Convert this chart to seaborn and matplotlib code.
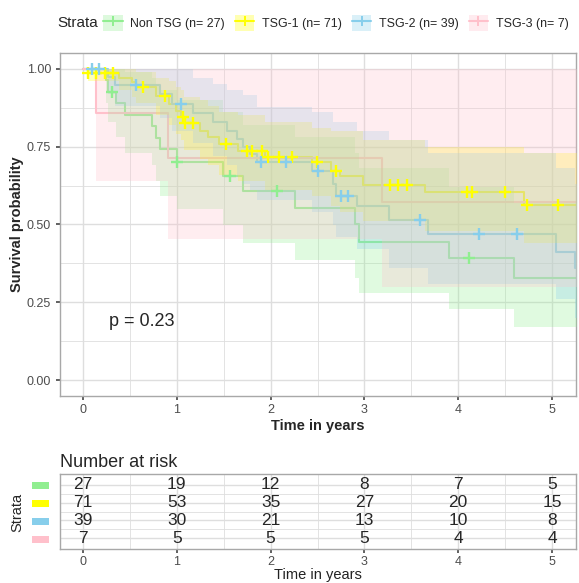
import numpy as np
import matplotlib
matplotlib.use("Agg")
import matplotlib.pyplot as plt
import seaborn as sns
from matplotlib.patches import Patch, Rectangle
from matplotlib.lines import Line2D
from matplotlib.ticker import MultipleLocator

sns.set_theme(style="whitegrid")
plt.rcParams['font.family'] = ['Liberation Sans', 'DejaVu Sans']

# ---- data ----
labels = ["Non TSG (n= 27)", "TSG-1 (n= 71)", "TSG-2 (n= 39)", "TSG-3 (n= 7)"]
colors = ["#90EE90", "#FFFF00", "#87CEEB", "#FFC0CB"]

green_t = [0.25, 0.27, 0.35, 0.45, 0.74, 0.78, 0.82, 1.00, 1.49, 1.71, 2.26, 2.90, 2.94, 3.90, 4.59]
green_s = [0.963, 0.926, 0.889, 0.852, 0.815, 0.778, 0.741, 0.700, 0.657, 0.609, 0.554, 0.500, 0.445, 0.391, 0.327]
green_lo = [0.89, 0.83, 0.78, 0.73, 0.69, 0.64, 0.59, 0.55, 0.50, 0.44, 0.385, 0.33, 0.28, 0.23, 0.17]
green_hi = [1.0, 1.0, 1.0, 0.99, 0.97, 0.95, 0.93, 0.90, 0.86, 0.82, 0.78, 0.73, 0.68, 0.62, 0.57]
green_cens = [0.31, 1.00, 1.57, 2.07, 4.12]

yellow_t = [0.05, 0.38, 0.52, 0.57, 0.78, 0.92, 0.99, 1.04, 1.08, 1.25, 1.33, 1.45, 1.65, 1.94,
            2.44, 2.64, 2.74, 2.99, 3.65, 4.70]
yellow_s = [0.986, 0.971, 0.957, 0.942, 0.911, 0.888, 0.865, 0.846, 0.824, 0.800, 0.780, 0.759,
            0.737, 0.718, 0.699, 0.673, 0.654, 0.628, 0.603, 0.564]
yellow_lo = [0.96, 0.93, 0.91, 0.89, 0.85, 0.82, 0.79, 0.77, 0.74, 0.71, 0.69, 0.66, 0.64, 0.61,
             0.59, 0.56, 0.54, 0.51, 0.48, 0.44]
yellow_hi = [1.0, 1.0, 1.0, 0.99, 0.97, 0.96, 0.94, 0.93, 0.91, 0.90, 0.88, 0.86, 0.85, 0.83,
             0.81, 0.80, 0.80, 0.77, 0.75, 0.73]
yellow_cens = [0.05, 0.14, 0.24, 0.32, 0.64, 0.87, 1.07, 1.09, 1.17, 1.52, 1.75, 1.80, 1.91, 1.97,
               2.09, 2.23, 2.49, 2.70, 3.27, 3.36, 3.45, 4.09, 4.15, 4.50, 4.73, 5.06]

blue_t = [0.27, 0.34, 0.82, 0.95, 1.17, 1.39, 1.54, 1.64, 1.71, 1.78, 1.86, 2.44, 2.66, 2.70,
          2.92, 3.26, 3.68, 5.04, 5.24]
blue_s = [0.974, 0.947, 0.920, 0.885, 0.858, 0.830, 0.800, 0.775, 0.750, 0.725, 0.700, 0.670,
          0.630, 0.593, 0.558, 0.513, 0.470, 0.413, 0.360]
blue_lo = [0.92, 0.88, 0.84, 0.80, 0.76, 0.72, 0.69, 0.66, 0.63, 0.61, 0.58, 0.54, 0.50, 0.46,
           0.42, 0.36, 0.31, 0.26, 0.20]
blue_hi = [1.0, 1.0, 1.0, 1.0, 0.97, 0.95, 0.93, 0.93, 0.915, 0.915, 0.878, 0.862, 0.83, 0.83,
           0.80, 0.77, 0.73, 0.68, 0.63]
blue_cens = [0.10, 0.17, 0.57, 1.04, 1.90, 2.16, 2.50, 2.75, 2.82, 3.59, 4.22, 4.63]

pink_t = [0.14, 0.91, 3.19]
pink_s = [0.857, 0.714, 0.571]
pink_lo = [0.64, 0.455, 0.30]
pink_hi = [1.0, 1.0, 1.0]
pink_cens = []

risk_times = [0, 1, 2, 3, 4, 5]
risk_green = [27, 19, 12, 8, 7, 5]
risk_yellow = [71, 53, 35, 27, 20, 15]
risk_blue = [39, 30, 21, 13, 10, 8]
risk_pink = [7, 5, 5, 5, 4, 4]

groups = [
    (green_t, green_s, green_lo, green_hi, green_cens),
    (yellow_t, yellow_s, yellow_lo, yellow_hi, yellow_cens),
    (blue_t, blue_s, blue_lo, blue_hi, blue_cens),
    (pink_t, pink_s, pink_lo, pink_hi, pink_cens),
]
risk = [risk_green, risk_yellow, risk_blue, risk_pink]
end_t = 5.5

W, H = 579, 583
fig = plt.figure(figsize=(W / 100, H / 100), dpi=100)

grid_major = "#DEDEDE"
border = "#A8A8A8"
tick_col = "#4D4D4D"

# ---- survival curves ----
ax = fig.add_axes([59.5 / W, (H - 396) / H, 516 / W, 343 / H])
for (t, s, lo, hi, cens), c in zip(groups, colors):
    x = np.r_[0.0, t, end_t]
    y = np.r_[1.0, s, s[-1]]
    ylo = np.r_[1.0, lo, lo[-1]]
    yhi = np.r_[1.0, hi, hi[-1]]
    sns.lineplot(x=x, y=y, drawstyle="steps-post", color=c, lw=1.5, ax=ax,
                 zorder=2, legend=False, errorbar=None)
    ax.fill_between(x, ylo, yhi, step="post", color=c, alpha=0.28, lw=0, zorder=3)
    if len(cens):
        idx = np.searchsorted(x, cens, side="right") - 1
        sns.scatterplot(x=cens, y=y[idx], marker="+", s=70, color=c, linewidth=1.7,
                        ax=ax, zorder=4, legend=False)

ax.set_xlim(-0.25, 5.25)
ax.set_ylim(-0.05, 1.05)
ax.xaxis.set_major_locator(MultipleLocator(1))
ax.xaxis.set_minor_locator(MultipleLocator(0.5))
ax.yaxis.set_minor_locator(MultipleLocator(0.125))
ax.set_yticks([0, 0.25, 0.5, 0.75, 1.0])
ax.set_yticklabels(["0.00", "0.25", "0.50", "0.75", "1.00"])
ax.grid(which="major", color=grid_major, lw=1.0)
ax.grid(which="minor", color=grid_major, lw=0.6)
ax.set_axisbelow(True)
for sp in ax.spines.values():
    sp.set_color(border)
    sp.set_linewidth(1.0)
ax.tick_params(axis="both", which="major", length=3, color=tick_col, labelcolor=tick_col,
               labelsize=9, pad=3, left=True, bottom=True)
ax.tick_params(which="minor", length=0)
ax.set_xlabel("Time in years", fontsize=10.5, fontweight="bold", labelpad=2)
ax.set_ylabel("Survival probability", fontsize=10.5, fontweight="bold", labelpad=2)
ax.text(0.28, 0.19, "p = 0.23", fontsize=13, ha="left", va="center", zorder=5)

# ---- legend ----
handles = [(Patch(facecolor=c, alpha=0.3, lw=0),
            Line2D([], [], color=c, lw=1.5, marker="+", markersize=7, markeredgewidth=1.4))
           for c in colors]
fig.text(57 / W, 1 - 23 / H, "Strata", fontsize=11, ha="left", va="center")
fig.legend(handles, labels, loc="center left", bbox_to_anchor=(103 / W, 1 - 23 / H),
           ncol=4, frameon=False, fontsize=8.9, handlelength=1.6, handleheight=1.6,
           handletextpad=0.6, columnspacing=0.8, borderpad=0, borderaxespad=0)

# ---- number at risk table ----
ax2 = fig.add_axes([59.5 / W, (H - 549) / H, 516 / W, 75 / H])
for row, (nums, c) in enumerate(zip(risk, colors)):
    for tt, n in zip(risk_times, nums):
        ax2.text(tt, row, str(n), ha="center", va="center", fontsize=12.5)
    fig.patches.append(Rectangle((32 / W, 1 - (485 + 18.2 * row + 3.5) / H), 17 / W, 7 / H,
                                 transform=fig.transFigure, color=c, lw=0))
ax2.set_xlim(-0.25, 5.25)
ax2.set_ylim(3.6, -0.6)
ax2.set_xticks(risk_times)
ax2.xaxis.set_minor_locator(MultipleLocator(0.5))
ax2.set_yticks([0, 1, 2, 3])
ax2.set_yticks([0.5, 1.5, 2.5], minor=True)
ax2.set_yticklabels([])
ax2.grid(which="major", color=grid_major, lw=1.0)
ax2.grid(which="minor", color=grid_major, lw=0.6)
ax2.set_axisbelow(True)
for sp in ax2.spines.values():
    sp.set_color(border)
    sp.set_linewidth(1.0)
ax2.tick_params(axis="x", which="major", length=3, color=tick_col, labelcolor=tick_col,
                labelsize=9, pad=2, bottom=True)
ax2.tick_params(axis="y", which="both", length=0)
ax2.tick_params(which="minor", length=0)
ax2.set_xlabel("Time in years", fontsize=10.5, color="#222222", labelpad=0)
ax2.set_title("Number at risk", fontsize=13, loc="left", pad=5)
fig.text(17 / W, 1 - 512 / H, "Strata", fontsize=10.5, rotation=90, ha="center", va="center")

fig.savefig("out.png", dpi=100)
